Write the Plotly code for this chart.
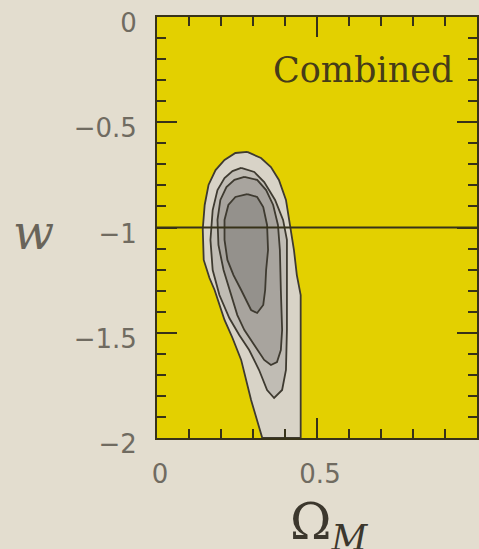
import plotly.graph_objects as go

# Confidence-region boundaries in the (Omega_M, w) plane, outermost first.
outer_om = [0.282, 0.325, 0.356, 0.381, 0.403, 0.418, 0.428, 0.437, 0.449, 0.449,
            0.329, 0.294, 0.263, 0.236, 0.211, 0.180, 0.164, 0.146, 0.143, 0.149,
            0.161, 0.183, 0.211, 0.245]
outer_w = [-0.641, -0.670, -0.713, -0.774, -0.869, -1.007, -1.107, -1.226, -1.321, -2.0,
           -2.0, -1.819, -1.629, -1.525, -1.439, -1.297, -1.240, -1.154, -1.007, -0.893,
           -0.798, -0.727, -0.679, -0.646]

mid_om = [0.263, 0.304, 0.335, 0.369, 0.394, 0.406, 0.406, 0.406, 0.403, 0.391, 0.366,
          0.344, 0.319, 0.288, 0.257, 0.226, 0.195, 0.174, 0.167, 0.174, 0.189, 0.211, 0.236]
mid_w = [-0.717, -0.736, -0.784, -0.869, -0.964, -1.059, -1.249, -1.487, -1.677, -1.772, -1.810,
         -1.772, -1.677, -1.582, -1.511, -1.430, -1.321, -1.202, -1.059, -0.917, -0.822, -0.765, -0.732]

inner_om = [0.273, 0.313, 0.341, 0.363, 0.378, 0.384, 0.387, 0.391, 0.387, 0.375, 0.356,
            0.335, 0.304, 0.273, 0.251, 0.232, 0.208, 0.192, 0.189, 0.198, 0.217, 0.242]
inner_w = [-0.760, -0.774, -0.822, -0.893, -0.988, -1.107, -1.297, -1.487, -1.582, -1.639, -1.653,
           -1.629, -1.558, -1.487, -1.416, -1.321, -1.202, -1.083, -0.964, -0.869, -0.808, -0.774]

core_om = [0.282, 0.313, 0.332, 0.344, 0.347, 0.341, 0.338, 0.332, 0.313,
           0.294, 0.263, 0.239, 0.220, 0.211, 0.211, 0.223, 0.245]
core_w = [-0.841, -0.855, -0.903, -0.988, -1.107, -1.202, -1.297, -1.368, -1.406,
          -1.392, -1.297, -1.226, -1.154, -1.059, -0.964, -0.893, -0.855]

regions = [
    (outer_om, outer_w, "rgb(216,211,199)"),
    (mid_om, mid_w, "rgb(192,188,180)"),
    (inner_om, inner_w, "rgb(168,164,158)"),
    (core_om, core_w, "rgb(148,145,140)"),
]

cosmological_constant_w = -1.0

x_tickvals = [0, 0.5]
x_ticktext = ["0", "0.5"]
y_tickvals = [0, -0.5, -1, -1.5, -2]
y_ticktext = ["0", "\u22120.5", "\u22121", "\u22121.5", "\u22122"]

ink = "rgb(55,50,25)"
label_grey = "rgb(112,107,97)"

fig = go.Figure()
for om, w, fill in regions:
    fig.add_trace(go.Scatter(
        x=om + [om[0]], y=w + [w[0]], mode="lines", fill="toself",
        fillcolor=fill, line=dict(color="rgb(62,58,48)", width=1.8),
        hoverinfo="skip", showlegend=False,
    ))

fig.add_hline(y=cosmological_constant_w, line=dict(color=ink, width=2))

axis_common = dict(
    ticks="inside", ticklen=20, tickwidth=2, tickcolor=ink,
    showline=True, linecolor=ink, linewidth=2, mirror="allticks",
    showgrid=False, zeroline=False, ticklabeloverflow="allow",
    tickfont=dict(family="DejaVu Sans", size=26, color=label_grey),
)

fig.update_xaxes(
    range=[0, 1], tickvals=x_tickvals, ticktext=x_ticktext,
    minor=dict(dtick=0.1, tick0=0, ticks="inside", ticklen=9, tickwidth=2, tickcolor=ink),
    ticklabelstandoff=12, ticklabelshift=3,
    **axis_common,
)
fig.update_yaxes(
    range=[-2, 0], tickvals=y_tickvals, ticktext=y_ticktext,
    minor=dict(dtick=0.1, tick0=0, ticks="inside", ticklen=9, tickwidth=2, tickcolor=ink),
    ticklabelstandoff=13, ticklabelshift=6,
    **axis_common,
)

fig.add_annotation(
    text="Combined", xref="paper", yref="paper", x=0.93, y=0.875,
    xanchor="right", yanchor="middle", showarrow=False,
    font=dict(family="DejaVu Serif", size=35, color="rgb(70,60,25)"),
)
fig.add_annotation(
    text="<i>w</i>", xref="paper", yref="paper", x=-0.385, y=0.49,
    xanchor="center", yanchor="middle", showarrow=False,
    font=dict(family="DejaVu Serif", size=48, color="rgb(105,100,90)"),
)
fig.add_annotation(
    text="\u03a9<sub><i>M</i></sub>", xref="paper", yref="paper", x=0.41, y=-0.125,
    xanchor="left", yanchor="top", showarrow=False,
    font=dict(family="DejaVu Serif", size=50, color="rgb(60,55,45)"),
)

fig.update_layout(
    width=479, height=549,
    margin=dict(l=157, r=0, t=17, b=111, pad=0),
    paper_bgcolor="rgb(227,221,207)",
    plot_bgcolor="rgb(227,208,0)",
    showlegend=False,
)

fig.write_html("out.html")
